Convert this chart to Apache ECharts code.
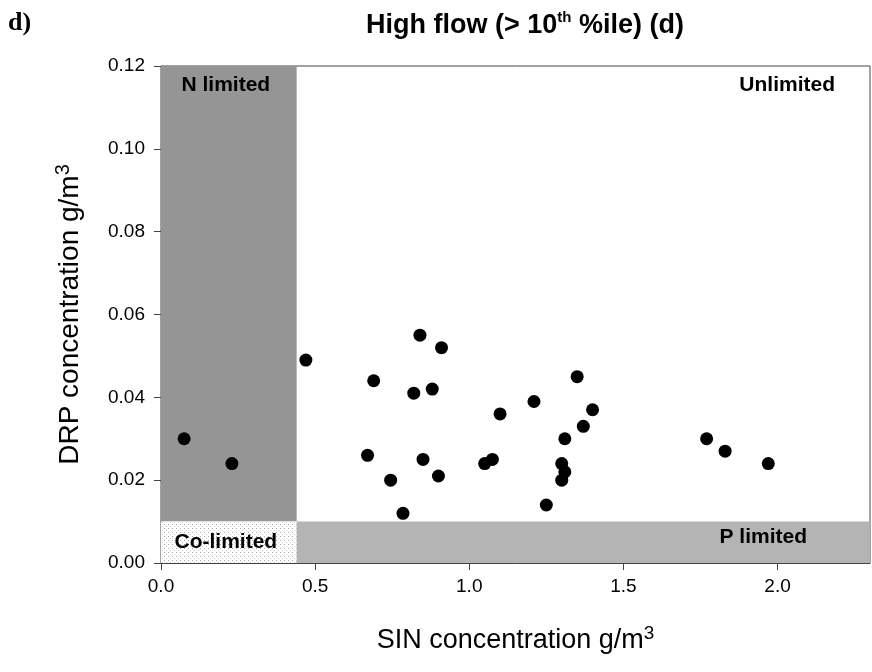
<!DOCTYPE html>
<html>
<head>
<meta charset="utf-8">
<script src="https://cdn.jsdelivr.net/npm/echarts@6/dist/echarts.min.js"></script>
<style>
html,body{margin:0;padding:0;background:#fff;}
#chart{width:872px;height:672px;}
</style>
</head>
<body>
<div id="chart"></div>
<script>
// ---- data ----
const sinValues = [0.075, 0.23, 0.47, 0.84, 0.91, 0.69, 0.82, 0.88, 0.67, 0.85, 0.745, 0.90, 0.785,
  1.35, 1.21, 1.40, 1.10, 1.37, 1.31, 1.05, 1.075, 1.30, 1.31, 1.30, 1.25,
  1.77, 1.83, 1.97];
const drpValues = [0.030, 0.024, 0.049, 0.055, 0.052, 0.044, 0.041, 0.042, 0.026, 0.025, 0.020, 0.021, 0.012,
  0.045, 0.039, 0.037, 0.036, 0.033, 0.030, 0.024, 0.025, 0.024, 0.022, 0.020, 0.014,
  0.030, 0.027, 0.024];
const xTicks = [0.0, 0.5, 1.0, 1.5, 2.0];
const yTicks = [0.00, 0.02, 0.04, 0.06, 0.08, 0.10, 0.12];
const xMin = 0, xMax = 2.3, yMin = 0, yMax = 0.12;
const nLimitSIN = 0.44;   // SIN threshold
const pLimitDRP = 0.01;   // DRP threshold
const regionNames = ['N limited', 'Unlimited', 'Co-limited', 'P limited'];

// ---- dotted pattern ----
const pc = document.createElement('canvas');
pc.width = 4; pc.height = 4;
const pctx = pc.getContext('2d');
pctx.fillStyle = '#ffffff'; pctx.fillRect(0, 0, 4, 4);
pctx.fillStyle = '#a8a8a8'; pctx.fillRect(0, 0, 1, 1);
pctx.fillStyle = '#d0d0d0'; pctx.fillRect(2, 2, 1, 1);

const chart = echarts.init(document.getElementById('chart'), null, {renderer: 'canvas'});
const points = sinValues.map((x, i) => [x, drpValues[i]]);
const FF = 'Liberation Sans, Arial, sans-serif';
const regionLabel = {fontFamily: FF, fontWeight: 'bold', fontSize: 21, color: '#000'};

chart.setOption({
  animation: false,
  backgroundColor: '#fff',
  title: {
    text: '{b|High flow (> 10}{s|th}{b| %ile) (d)}',
    left: 520, top: 5, textAlign: 'center',
    textStyle: {
      rich: {
        b: {fontFamily: FF, fontWeight: 'bold', fontSize: 27, color: '#000', lineHeight: 32},
        s: {fontFamily: FF, fontWeight: 'bold', fontSize: 15, color: '#000', verticalAlign: 'bottom', lineHeight: 15, padding: [0, 0, 17, 0]}
      }
    }
  },
  graphic: [{
    type: 'text', left: 8, top: 10,
    style: {text: 'd)', font: 'bold 26px "Liberation Serif", "Times New Roman", serif', fill: '#000'}
  }],
  grid: {left: 161, right: 2, top: 66, bottom: 109, show: true, borderColor: '#444', borderWidth: 1, backgroundColor: 'transparent'},
  xAxis: {
    type: 'value', min: xMin, max: xMax, interval: 0.5,
    name: '{n|SIN concentration g/m}{s|3}',
    nameLocation: 'middle', nameGap: 61,
    nameTextStyle: {rich: {
      n: {fontFamily: FF, fontSize: 27, color: '#000', lineHeight: 34},
      s: {fontFamily: FF, fontSize: 19, color: '#000', verticalAlign: 'top', lineHeight: 34, padding: [0, 0, 16, 0]}
    }},
    axisLine: {show: true, onZero: false, lineStyle: {color: '#444', width: 1}},
    axisTick: {show: true, inside: false, length: 7, lineStyle: {color: '#444'}},
    axisLabel: {show: true, margin: 14, fontFamily: FF, fontSize: 19, color: '#000',
      showMaxLabel: false,
      formatter: v => xTicks.some(t => Math.abs(t - v) < 1e-9) ? v.toFixed(1) : ''},
    splitLine: {show: false}
  },
  yAxis: {
    type: 'value', min: yMin, max: yMax, interval: 0.02,
    name: '{n|DRP concentration g/m}{s|3}',
    nameLocation: 'middle', nameGap: 74, nameRotate: 90,
    nameTextStyle: {rich: {
      n: {fontFamily: FF, fontSize: 28, color: '#000', lineHeight: 34},
      s: {fontFamily: FF, fontSize: 20, color: '#000', verticalAlign: 'top', lineHeight: 34, padding: [0, 0, 16, 0]}
    }},
    axisLine: {show: true, onZero: false, lineStyle: {color: '#444', width: 1}},
    axisTick: {show: true, inside: false, length: 7, lineStyle: {color: '#444'}},
    axisLabel: {show: true, margin: 16, fontFamily: FF, fontSize: 19, color: '#000',
      formatter: v => yTicks.some(t => Math.abs(t - v) < 1e-9) ? v.toFixed(2) : ''},
    splitLine: {show: false}
  },
  series: [
    {
      type: 'scatter', data: [], z: 1, silent: true,
      markArea: {
        silent: true,
        data: [
          [{xAxis: xMin, yAxis: pLimitDRP, itemStyle: {color: '#959595'},
            label: Object.assign({show: true, position: 'insideTop', distance: 9, offset: [-3, 0], formatter: regionNames[0]}, regionLabel)},
           {xAxis: nLimitSIN, yAxis: yMax}],
          [{xAxis: nLimitSIN, yAxis: pLimitDRP, itemStyle: {color: 'rgba(0,0,0,0)'},
            label: Object.assign({show: true, position: 'insideTopRight', distance: 9, offset: [-26, 0], formatter: regionNames[1]}, regionLabel)},
           {xAxis: xMax, yAxis: yMax}],
          [{xAxis: xMin, yAxis: yMin, itemStyle: {color: {image: pc, repeat: 'repeat'}},
            label: Object.assign({show: true, position: 'inside', offset: [-3, 0], formatter: regionNames[2]}, regionLabel)},
           {xAxis: nLimitSIN, yAxis: pLimitDRP}],
          [{xAxis: nLimitSIN, yAxis: yMin, itemStyle: {color: '#b4b4b4'},
            label: Object.assign({show: true, position: 'insideTopRight', distance: 5, offset: [-58, 0], formatter: regionNames[3]}, regionLabel)},
           {xAxis: xMax, yAxis: pLimitDRP}]
        ]
      }
    },
    {
      type: 'scatter', data: points, z: 5,
      symbol: 'circle', symbolSize: 13,
      itemStyle: {color: '#000', opacity: 1}
    }
  ]
});
</script>
</body>
</html>
